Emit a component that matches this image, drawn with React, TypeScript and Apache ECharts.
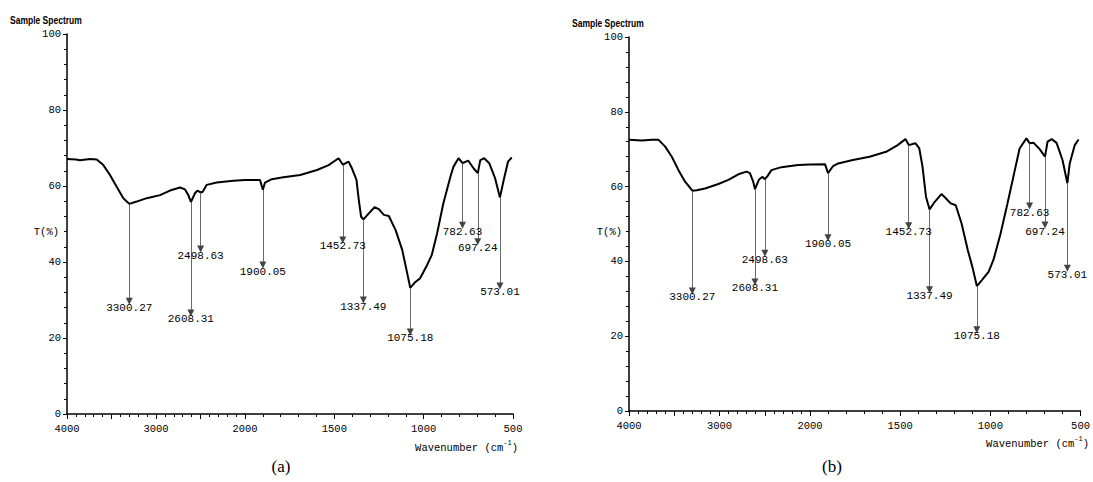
import React, { useEffect, useRef } from "react";
import * as echarts from "echarts";

// ---------- data ----------
const waveA = [
  4000, 3900, 3854, 3742, 3666, 3592, 3517, 3442, 3367, 3300, 3217, 3104, 2955, 2843, 2730, 2674, 2637, 2608,
  2562, 2536, 2498, 2475, 2430, 2318, 2131, 2000, 1916, 1900, 1888, 1850, 1785, 1691, 1597, 1532, 1476, 1452,
  1420, 1401, 1376, 1363, 1350, 1337, 1307, 1275, 1251, 1223, 1195, 1157, 1120, 1092, 1075, 1050, 1020, 985,
  955, 925, 890, 850, 833, 805, 782, 751, 720, 697, 683, 661, 633, 600, 573, 552, 528, 507,
];
const transA = [
  67.1, 67.0, 66.8, 67.1, 67.0, 65.5, 62.9, 59.8, 56.8, 55.3, 55.9, 56.8, 57.6, 58.8, 59.6, 59.1, 57.6, 55.8,
  58.1, 58.8, 58.3, 58.5, 60.3, 60.9, 61.4, 61.6, 61.6, 59.0, 60.9, 61.8, 62.3, 62.9, 64.2, 65.5, 67.3, 65.6,
  66.4, 64.6, 61.6, 56.3, 51.9, 51.2, 52.8, 54.4, 53.9, 52.4, 52.1, 48.4, 43.2, 37.0, 33.2, 34.6, 35.7, 38.8,
  41.8, 47.5, 55.4, 62.5, 65.1, 67.3, 66.0, 66.7, 64.6, 63.4, 66.8, 67.3, 66.0, 62.0, 57.0, 61.6, 66.4, 67.5,
];

const waveB = [
  4000, 3857, 3747, 3673, 3600, 3527, 3453, 3380, 3300, 3251, 3160, 3012, 2902, 2792, 2701, 2664, 2627, 2608,
  2565, 2528, 2498, 2470, 2426, 2316, 2132, 2000, 1917, 1900, 1872, 1844, 1762, 1670, 1578, 1514, 1471, 1452,
  1416, 1394, 1376, 1357, 1337, 1312, 1271, 1247, 1220, 1192, 1160, 1125, 1098, 1075, 1047, 1010, 983, 945,
  907, 868, 838, 800, 782, 760, 730, 697, 683, 660, 633, 600, 573, 560, 532, 511,
];
const transB = [
  72.5, 72.3, 72.5, 72.5, 70.7, 68.0, 64.4, 61.3, 58.9, 59.0, 59.5, 60.7, 61.8, 63.3, 64.0, 63.6, 61.3, 59.3,
  61.8, 62.6, 62.0, 62.8, 64.4, 65.2, 65.8, 65.9, 66.0, 63.6, 65.5, 66.2, 67.1, 68.0, 69.3, 71.1, 72.7, 71.1,
  71.6, 70.2, 65.3, 57.3, 53.9, 55.7, 58.0, 56.9, 55.5, 55.0, 50.2, 43.0, 38.2, 33.4, 35.0, 37.2, 40.4, 47.1,
  55.1, 63.6, 70.2, 72.9, 71.6, 71.7, 70.2, 68.0, 72.0, 72.7, 71.7, 67.1, 60.9, 66.2, 71.1, 72.6,
];

const peakNames = ["3300.27", "2608.31", "2498.63", "1900.05", "1452.73", "1337.49", "1075.18", "782.63", "697.24", "573.01"];
const peakWaves = [3300.27, 2608.31, 2498.63, 1900.05, 1452.73, 1337.49, 1075.18, 782.63, 697.24, 573.01];
const peakTopA = [55.3, 55.8, 58.3, 59.0, 65.6, 51.2, 33.2, 66.0, 63.4, 57.0];
const arrowEndA = [29.7, 26.6, 43.4, 39.2, 45.8, 30.0, 21.6, 49.7, 45.3, 33.7];
const peakTopB = [58.9, 59.3, 62.0, 63.6, 71.1, 53.9, 33.4, 71.6, 68.0, 60.9];
const arrowEndB = [32.1, 34.5, 42.2, 46.3, 49.5, 32.4, 21.7, 54.8, 49.7, 38.2];

const panelTags = ["(a)", "(b)"];
const titleText = "Sample Spectrum";
const yName = "T(%)";

// ---------- styling ----------
const MONO = "'Liberation Mono', 'DejaVu Sans Mono', monospace";
const SANS = "'Liberation Sans', Arial, sans-serif";
const SERIF = "'Liberation Serif', 'DejaVu Serif', serif";

type Panel = {
  left: number; mid: number; right: number; top: number; bottom: number;
  wave: number[]; trans: number[]; tops: number[]; ends: number[];
  titleX: number; titleY: number; tX: number; tY: number; wnX: number; wnY: number; capX: number; capY: number;
};

const panels: Panel[] = [
  { left: 67, mid: 245, right: 513, top: 34, bottom: 414, wave: waveA, trans: transA, tops: peakTopA, ends: arrowEndA,
    titleX: 10, titleY: 20, tX: 59, tY: 232, wnX: 518, wnY: 446, capX: 281, capY: 466 },
  { left: 629, mid: 810, right: 1083, top: 37, bottom: 411, wave: waveB, trans: transB, tops: peakTopB, ends: arrowEndB,
    titleX: 572, titleY: 23, tX: 622, tY: 232, wnX: 1089, wnY: 442, capX: 832, capY: 466 },
];

function buildOption() {
  const grid: any[] = [];
  const xAxis: any[] = [];
  const yAxis: any[] = [];
  const series: any[] = [];
  const graphic: any[] = [];

  panels.forEach((p, pi) => {
    [true, false].forEach((hi) => {
      const gi = grid.length;
      grid.push({
        left: hi ? p.left : p.mid,
        top: p.top,
        width: hi ? p.mid - p.left : p.right - p.mid,
        height: p.bottom - p.top,
        containLabel: false,
      });
      xAxis.push({
        type: "value",
        gridIndex: gi,
        inverse: true,
        min: hi ? 2000 : 500,
        max: hi ? 4000 : 2000,
        interval: 500,
        axisLine: { show: true, onZero: false, lineStyle: { color: "#000", width: 1.5 } },
        axisTick: { show: true, length: 5, lineStyle: { color: "#000", width: 1 } },
        minorTick: { show: true, splitNumber: 5, length: 3, lineStyle: { color: "#000", width: 1 } },
        splitLine: { show: false },
        minorSplitLine: { show: false },
        axisLabel: {
          show: true,
          margin: 9,
          color: "#000",
          fontFamily: MONO,
          fontSize: 10.5,
          showMinLabel: true,
          showMaxLabel: true,
          formatter: (v: number) => (hi ? (v % 1000 === 0 ? String(v) : "") : v === 2000 ? "" : String(v)),
        },
      });
      yAxis.push({
        type: "value",
        gridIndex: gi,
        min: 0,
        max: 100,
        interval: 20,
        show: hi,
        axisLine: { show: true, onZero: false, lineStyle: { color: "#000", width: 1.5 } },
        axisTick: { show: true, length: 4, lineStyle: { color: "#000", width: 1 } },
        minorTick: { show: true, splitNumber: 5, length: 3, lineStyle: { color: "#000", width: 1 } },
        splitLine: { show: false },
        minorSplitLine: { show: false },
        axisLabel: { show: true, margin: 6, color: "#000", fontFamily: MONO, fontSize: 10.5 },
      });

      const data = p.wave
        .map((w, i) => [w, p.trans[i]])
        .filter(([w]) => (hi ? w >= 2000 : w <= 2000));

      const mlData = peakWaves
        .map((w, i) => ({ w, i }))
        .filter(({ w }) => (hi ? w > 2000 : w < 2000))
        .map(({ w, i }) => [
          { name: peakNames[i], coord: [w, p.tops[i]] },
          { name: peakNames[i], coord: [w, p.ends[i]] },
        ]);

      series.push({
        type: "line",
        xAxisIndex: gi,
        yAxisIndex: gi,
        data,
        symbol: "none",
        smooth: false,
        lineStyle: { color: "#000", width: 2 },
        silent: true,
        markLine: {
          silent: true,
          symbol: ["none", "triangle"],
          symbolSize: 7,
          precision: 2,
          lineStyle: { color: "#444", width: 0.8, type: "solid" },
          emphasis: { disabled: true },
          label: {
            show: true,
            position: "end",
            distance: 1,
            formatter: (prm: any) => prm.name,
            color: "#000",
            fontFamily: MONO,
            fontSize: 11,
          },
          data: mlData,
        },
      });
    });

    graphic.push(
      {
        type: "text",
        x: p.titleX,
        y: p.titleY,
        scaleX: 0.74,
        style: { text: titleText, fill: "#000", font: `bold 11.5px ${SANS}`, textAlign: "left", textVerticalAlign: "middle" },
      },
      {
        type: "text",
        x: p.tX,
        y: p.tY,
        style: { text: yName, fill: "#000", font: `10.5px ${MONO}`, textAlign: "right", textVerticalAlign: "middle" },
      },
      {
        type: "text",
        x: p.wnX,
        y: p.wnY,
        style: {
          text: "{n|Wavenumber (cm}{s|-1}{n|)}",
          textAlign: "right",
          textVerticalAlign: "middle",
          rich: {
            n: { fontFamily: MONO, fontSize: 10.5, fill: "#000", lineHeight: 14, verticalAlign: "bottom" },
            s: { fontFamily: MONO, fontSize: 7, fill: "#000", lineHeight: 14, verticalAlign: "top" },
          },
        },
      },
      {
        type: "text",
        x: p.capX,
        y: p.capY,
        style: { text: panelTags[pi], fill: "#000", font: `17px ${SERIF}`, textAlign: "center", textVerticalAlign: "middle" },
      }
    );
  });

  return {
    animation: false,
    backgroundColor: "#fff",
    grid,
    xAxis,
    yAxis,
    series,
    graphic,
  };
}

export default function App() {
  const ref = useRef<HTMLDivElement>(null);
  useEffect(() => {
    if (!ref.current) return;
    const chart = echarts.init(ref.current, undefined, { renderer: "svg" });
    chart.setOption(buildOption() as any);
    return () => chart.dispose();
  }, []);
  return (
    <div
      ref={ref}
      style={{ position: "fixed", left: 0, top: 0, width: 1093, height: 482, background: "#fff" }}
    />
  );
}
